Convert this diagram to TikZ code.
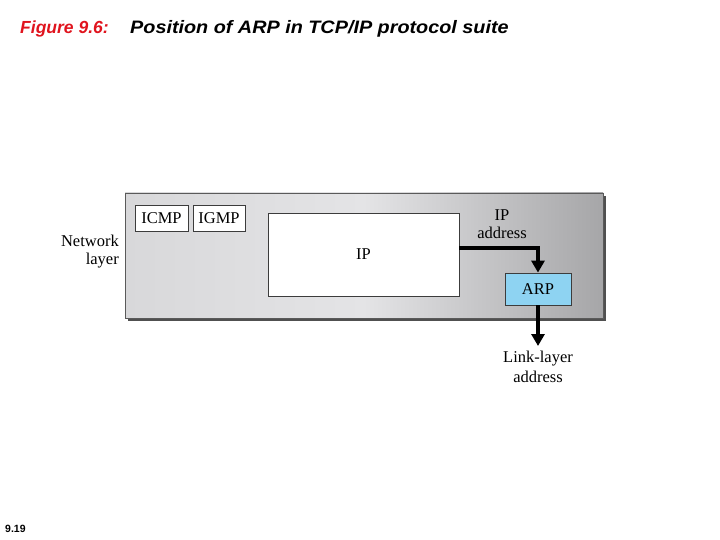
\documentclass[tikz,border=0pt]{standalone}
\usepackage{fontspec}
\usepackage{graphicx}
\setmainfont{Liberation Serif}
\newfontfamily\titlefont{Liberation Sans}
\usetikzlibrary{arrows.meta,calc,positioning}
\definecolor{panellight}{HTML}{E4E4E6}
\definecolor{panelleft}{HTML}{D8D8DA}
\definecolor{paneldark}{HTML}{A6A6A8}
\definecolor{panelborder}{HTML}{5A5A5A}
\definecolor{shadowgray}{HTML}{505050}
\definecolor{arpblue}{HTML}{8ED3F2}
\definecolor{titlered}{HTML}{E0141E}
\definecolor{boxline}{HTML}{3C3C3C}
\newcommand{\labeltext}{\fontsize{16.5}{18}\selectfont}
\tikzset{
  bigtip/.style={-{Triangle[length=12pt,width=13pt]}},
  bigarrow/.style={bigtip,draw=black,line width=3.6pt},
  protobox/.style={draw=boxline,line width=.8pt,fill=white,inner sep=0pt,font=\labeltext},
  sidelabel/.style={inner sep=0pt,font=\labeltext,align=center},
  titletext/.style={anchor=base west,inner sep=0pt,font=\titlefont\bfseries\itshape\fontsize{17.5}{20}\selectfont}
}

\begin{document}
\begin{tikzpicture}[x=1pt,y=-1pt]
  \useasboundingbox (0,0) rectangle (720,540);

  % Title and slide number.
  \node[titletext,text=titlered] (figlabel) at (20,34) {Figure 9.6:};
  \node[titletext,font=\titlefont\bfseries\itshape\fontsize{18}{20}\selectfont] (title) at (130,34) {\scalebox{1.1}[1]{Position of ARP in TCP/IP protocol suite}};
  \node[anchor=base west,inner sep=0pt,font=\titlefont\bfseries\fontsize{10.5}{12}\selectfont] (slideno) at (5,532) {9.19};

  % Network-layer panel with its drop shadow.
  \fill[shadowgray] (128,196) rectangle (606,321);
  \node[draw=panelborder,line width=.6pt,left color=panelleft,right color=paneldark,middle color=panellight,minimum width=478pt,minimum height=125pt,inner sep=0pt] (panel) at (364,255.5) {};

  % Protocol boxes.
  \node[protobox,minimum width=53pt,minimum height=26pt] (icmp) at (161.5,218) {ICMP};
  \node[protobox,minimum width=52pt,minimum height=26pt] (igmp) at (219,218) {IGMP};
  \node[protobox,minimum width=191pt,minimum height=83pt] (ip) at (363.5,254.5) {IP};
  \node[protobox,fill=arpblue,minimum width=66pt,minimum height=32pt] (arp) at (538,289) {ARP};

  % Labels.
  \node[sidelabel,align=right,anchor=east] (netlayer) at (119,252) {Network\\layer};
  \node[sidelabel] (ipaddr) at (502,224) {IP\\address};
  \node[sidelabel,anchor=north] (linkaddr) at (538,351) {Link-layer\\[2pt]address};

  % Address resolution path.
  \coordinate (ipout) at (459,248);
  \draw[bigarrow] (ipout) -| (arp.north);
  \draw[bigarrow] (arp.south) -- ($(linkaddr.north)+(0,-5)$);
\end{tikzpicture}
\end{document}
